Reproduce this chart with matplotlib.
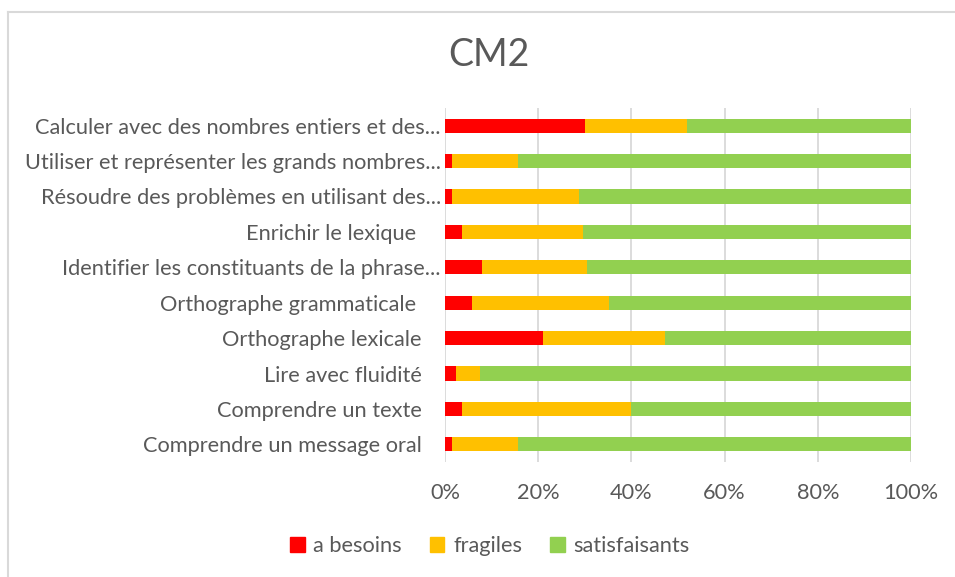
import numpy as np
import matplotlib.pyplot as plt
from matplotlib.patches import Patch
from matplotlib.transforms import ScaledTranslation

# categories, top to bottom as in the chart
categories = [
    "Calculer avec des nombres entiers et des...",
    "Utiliser et représenter les grands nombres...",
    "Résoudre des problèmes en utilisant des...",
    "Enrichir le lexique ",
    "Identifier les constituants de la phrase...",
    "Orthographe grammaticale ",
    "Orthographe lexicale",
    "Lire avec fluidité",
    "Comprendre un texte",
    "Comprendre un message oral",
]
# shares in %
besoins = [30.0, 1.5, 1.5, 3.7, 8.0, 5.9, 21.0, 2.4, 3.7, 1.5]
fragiles = [22.0, 14.2, 27.2, 25.9, 22.5, 29.3, 26.3, 5.1, 36.2, 14.2]
satisfaisants = [48.0, 84.3, 71.3, 70.4, 69.5, 64.8, 52.7, 92.5, 60.1, 84.3]
series_names = ["a besoins", "fragiles", "satisfaisants"]
colors = ["#FF0000", "#FFC000", "#92D050"]
ticks = [0, 20, 40, 60, 80, 100]

txt = "#595959"
fs = 15.7
plt.rcParams['font.family'] = ['Lato', 'DejaVu Sans']

fig = plt.figure(figsize=(9.55, 5.77), dpi=100)
ax = fig.add_axes([445/955, 115/577, 466/955, 354/577])

y = np.arange(len(categories))
left = np.zeros(len(categories))
for vals, name, c in zip([besoins, fragiles, satisfaisants], series_names, colors):
    ax.barh(y, vals, left=left, height=0.4, color=c, label=name, zorder=3)
    left += np.array(vals)

ax.set_ylim(len(categories) - 0.5, -0.5)
ax.set_xlim(0, 100)
ax.set_yticks(y)
ax.set_yticklabels(categories)
ax.set_xticks(ticks)
ax.set_xticklabels([f"{t}%" for t in ticks])
ax.tick_params(axis='y', length=0, pad=17, labelsize=fs, labelcolor=txt)
ax.tick_params(axis='x', length=0, pad=15, labelsize=fs, labelcolor=txt)
ax.grid(axis='x', color="#D9D9D9", linewidth=1.3, zorder=0)
for s in ax.spines.values():
    s.set_visible(False)

# labels cut with "..." stick out a bit further to the right
shift = ScaledTranslation(14/72, 0, fig.dpi_scale_trans)
for lab in ax.get_yticklabels():
    if lab.get_text().endswith("..."):
        lab.set_transform(lab.get_transform() + shift)

fig.text(489/955, 1 - 55/577, "CM2", ha='center', va='center', fontsize=27, color=txt)

handles = [Patch(color=c, label=n) for c, n in zip(colors, series_names)]
fig.legend(handles=handles, loc='center', bbox_to_anchor=(490/955, 1 - 546/577),
           ncol=3, frameon=False, fontsize=fs, labelcolor=txt,
           handlelength=0.65, handleheight=0.65, handletextpad=0.4, columnspacing=1.3)

# chart border (top and left visible in the crop)
fig.add_artist(plt.Line2D([8/955, 1], [1 - 12/577, 1 - 12/577], color="#D9D9D9", linewidth=1.5))
fig.add_artist(plt.Line2D([8/955, 8/955], [0, 1 - 12/577], color="#D9D9D9", linewidth=1.5))

fig.savefig("out.png", dpi=100)
